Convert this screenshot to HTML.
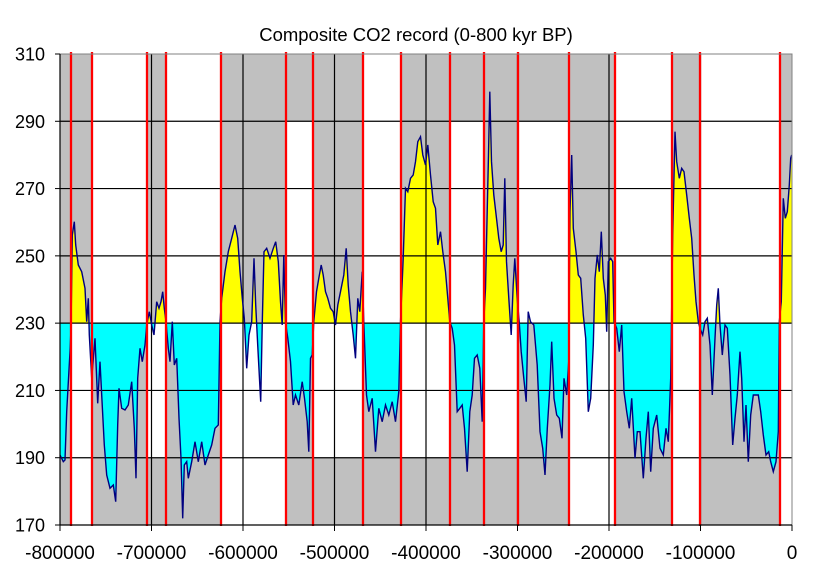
<!DOCTYPE html>
<html><head><meta charset="utf-8"><style>
html,body{margin:0;padding:0;background:#fff;width:818px;height:580px;overflow:hidden}
svg{display:block;font-family:"Liberation Sans",Arial,sans-serif}
</style></head><body>
<svg id="s" width="818" height="580" viewBox="0 0 818 580" xmlns="http://www.w3.org/2000/svg">
<defs>
<clipPath id="up"><rect x="60" y="40" width="733" height="283.3"/></clipPath>
<clipPath id="dn"><rect x="60" y="323.3" width="733" height="210"/></clipPath>
</defs>
<g id="bg"></g>
<g id="fill"></g>
<g id="grid"></g>
<g id="line"></g>
<g id="red"></g>
<g id="axes"></g>
<text x="416" y="41" font-size="18.5" text-anchor="middle">Composite CO2 record (0-800 kyr BP)</text>
</svg>
<script>
var NS="http://www.w3.org/2000/svg";
function el(p,t,a){var e=document.createElementNS(NS,t);for(var k in a)e.setAttribute(k,a[k]);document.getElementById(p).appendChild(e);return e;}
function Y(v){return 525-(v-170)*3.3643;}
var G="#C0C0C0";
var cols=[[60,71,"gggg"],[71,92,"ggww"],[92,147,"wwgg"],[147,166,"ggwg"],[166,221,"wwgg"],[221,286,"ggww"],[286,313,"gwgg"],[313,363,"ggwg"],[363,401,"wwgg"],[401,450,"ggwg"],[450,484,"gwgg"],[484,518,"ggwg"],[518,569,"gwgg"],[569,615,"ggww"],[615,672,"wwgg"],[672,700,"ggww"],[700,780,"wwgg"],[780,792,"ggww"]];
var bands=[[310,290],[290,230],[230,190],[190,170]];
cols.forEach(function(c){for(var i=0;i<4;i++){if(c[2][i]=="g"){el("bg","rect",{x:c[0],y:Y(bands[i][0]),width:c[1]-c[0],height:Y(bands[i][1])-Y(bands[i][0]),fill:G});}}});
var z3=[[15,1230],[25,1250],[30,1245],[35,1100],[45,920],[48,850],[52,570],[58,530],[62,600],[70,660],[80,680],[90,730],[95,830],[100,760],[103,870],[110,1000],[120,880],[128,1075],[135,950],[140,1050],[148,1200],[155,1290],[165,1330],[175,1320],[182,1370],[188,1140],[192,1030],[200,1090],[210,1095],[220,1080],[230,1010],[238,1150],[243,1300],[248,1000],[255,910],[262,950],[270,900],[275,840],[283,800],[290,840],[297,870],[305,770],[312,790],[318,770],[323,740],[328,790],[333,830],[340,910],[345,950],[352,830],[358,960],[365,940],[372,1120],[378,1240],[383,1420],[388,1260],[395,1250],[400,1300],[410,1250],[420,1190],[430,1250],[440,1190],[450,1260],[460,1230],[470,1200],[480,1150],[490,1140],[495,830],[500,760],[510,680],[520,620],[530,580],[540,540],[548,580],[555,680],[562,760],[568,820],[575,970],[582,870],[590,830],[597,640],[602,780],[608,900],[617,1070],[622,830],[627,620],[635,610],[645,640],[655,610],[662,590],[670,650]];
var z4=[[0,770],[5,840],[10,630],[15,830],[22,880],[30,950],[38,1080],[45,1050],[55,1080],[65,1010],[72,1060],[80,1130],[85,1220],[90,940],[95,930],[100,830],[108,740],[115,700],[122,660],[128,690],[135,740],[142,760],[150,790],[158,800],[165,840],[172,780],[180,740],[190,690],[197,610],[203,720],[210,800],[218,870],[225,940],[232,760],[238,800],[245,680],[250,830],[258,1050],[265,1100],[275,1060],[285,1220],[295,1090],[305,1130],[315,1080],[325,1110],[335,1070],[345,1130],[355,1040],[360,830],[368,640],[375,430],[382,440],[390,400],[398,390],[405,350],[412,290],[420,275],[427,330],[435,360],[442,300],[450,390],[458,470],[465,490],[472,600],[480,560],[487,620],[495,680],[502,760],[508,830],[515,850],[522,900],[530,1100],[538,1090],[545,1080],[552,1150],[560,1280],[568,1100],[575,1050],[582,940],[590,930],[598,970],[605,1130],[610,830],[615,730],[620,500],[624,330],[628,140],[633,350],[640,450],[648,520],[655,580],[662,620],[668,600],[673,400],[678,650],[685,760],[692,870],[698,720],[703,640],[710,760],[716,830],[722,920],[730,1000],[737,1070],[743,800],[750,830],[760,840],[770,960]];
var z5=[[0,1160],[8,1210],[15,1290],[22,1150],[30,1020],[35,890],[42,1060],[50,1110],[58,1120],[66,1180],[72,1000],[80,1050],[86,950],[90,500],[95,330],[100,550],[108,620],[115,690],[122,700],[130,810],[137,880],[145,1100],[152,1060],[160,900],[165,700],[172,630],[178,680],[184,560],[190,700],[196,750],[200,860],[205,650],[212,640],[218,650],[222,830],[230,850],[238,920],[245,840],[252,1040],[260,1100],[268,1150],[275,1060],[285,1240],[292,1160],[300,1160],[310,1300],[318,1180],[325,1100],[332,1280],[340,1150],[350,1110],[360,1210],[370,1230],[378,1150],[385,1190],[392,1000],[398,570],[405,260],[410,350],[418,400],[425,370],[432,380],[440,450],[448,520],[455,580],[462,690],[468,770],[475,830],[480,850],[488,870],[495,830],[502,820],[510,900],[517,1050],[525,880],[530,780],[535,730],[540,840],[547,930],[555,840],[562,850],[570,990],[578,1200],[585,1120],[592,1050],[600,920],[605,1000],[612,1190],[618,1080],[625,1250],[632,1110],[640,1050],[655,1050],[662,1100],[670,1170],[678,1230],[686,1220],[692,1250],[700,1280],[708,1250],[715,1160],[718,830],[724,770],[730,460],[736,520],[742,500],[748,420],[752,340],[755,330]];
var pts=[];
z3.forEach(function(p){pts.push([55+p[0]/3,45+p[1]/3]);});
z4.forEach(function(p){pts.push([280+p[0]/3+0.5,45+p[1]/3]);});
z5.forEach(function(p){pts.push([540+p[0]/3,45+p[1]/3]);});
pts[0][0]=60;
var ps=pts.map(function(p){return p[0].toFixed(1)+","+p[1].toFixed(1);}).join(" ");
var poly="60,323.3 "+ps+" "+pts[pts.length-1][0].toFixed(1)+",323.3";
el("fill","polygon",{points:poly,fill:"#FFFF00","clip-path":"url(#up)"});
el("fill","polygon",{points:poly,fill:"#00FFFF","clip-path":"url(#dn)"});
[290,270,250,230,210,190].forEach(function(v){el("grid","line",{x1:60,x2:792,y1:Y(v),y2:Y(v),stroke:"#000","stroke-width":1.2});});
for(var k=1;k<8;k++){var x=60+k*91.5;el("grid","line",{x1:x,x2:x,y1:54,y2:525,stroke:"#000","stroke-width":1.2});}
el("line","polyline",{points:ps,fill:"none",stroke:"#000080","stroke-width":1.4});
[71,92,147,166,221,286,313,363,401,450,484,518,569,615,672,700,780].forEach(function(x){el("red","line",{x1:x,x2:x,y1:52,y2:526,stroke:"#FF0000","stroke-width":2.3});});
el("axes","polyline",{points:"60,54 792,54 792,525",fill:"none",stroke:"#808080","stroke-width":1});
el("axes","line",{x1:60,x2:60,y1:54,y2:525,stroke:"#000","stroke-width":1.2});
el("axes","line",{x1:60,x2:792,y1:525,y2:525,stroke:"#000","stroke-width":1.2});
for(var v=170;v<=310;v+=20){var y=Y(v);el("axes","line",{x1:55,x2:60,y1:y,y2:y,stroke:"#000"});var t=el("axes","text",{x:45,y:y+6.5,"font-size":18,"text-anchor":"end"});t.textContent=v;}
for(var k=0;k<=8;k++){var x=60+k*91.5;el("axes","line",{x1:x,x2:x,y1:525,y2:531,stroke:"#000"});var t=el("axes","text",{x:x,y:559,"font-size":19,"text-anchor":"middle"});t.textContent=k==8?"0":"-"+(800000-k*100000);}
</script>
</body></html>
